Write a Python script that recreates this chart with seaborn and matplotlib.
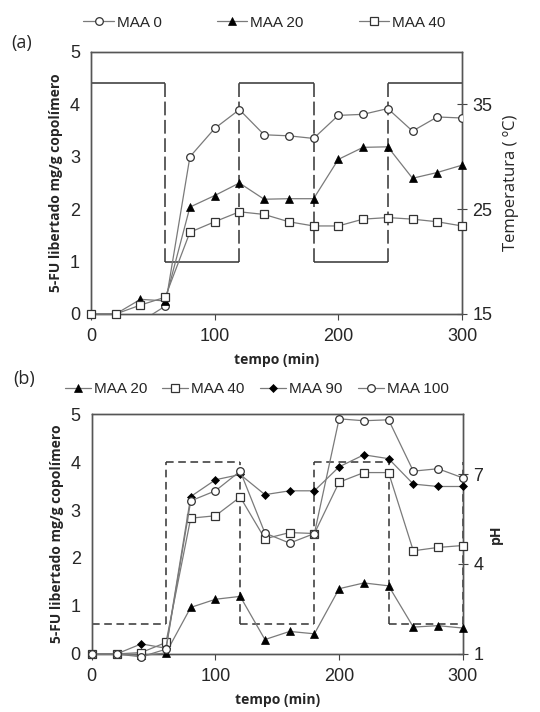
import numpy as np
import pandas as pd
import seaborn as sns
import matplotlib.pyplot as plt
from matplotlib.lines import Line2D

# data
tempo = [0, 20, 40, 60, 80, 100, 120, 140, 160, 180, 200, 220, 240, 260, 280, 300]

# panel (a): temperature pulses
a_maa0 = [0, 0, -0.15, 0.15, 3.0, 3.54, 3.9, 3.42, 3.4, 3.35, 3.79, 3.81, 3.92, 3.49, 3.76, 3.74]
a_maa20 = [0, 0, 0.28, 0.25, 2.04, 2.26, 2.5, 2.19, 2.2, 2.2, 2.95, 3.18, 3.19, 2.59, 2.7, 2.84]
a_maa40 = [0, 0, 0.17, 0.32, 1.56, 1.76, 1.95, 1.9, 1.76, 1.68, 1.68, 1.81, 1.84, 1.81, 1.76, 1.68]
temp_t = [0, 60, 120, 180, 240, 300]
temp_val = [37, 20, 37, 20, 37]

# panel (b): pH pulses
b_maa20 = [0, 0, -0.03, 0.02, 0.97, 1.14, 1.2, 0.3, 0.47, 0.42, 1.36, 1.48, 1.42, 0.56, 0.59, 0.54]
b_maa40 = [0, 0, 0.03, 0.24, 2.83, 2.88, 3.27, 2.4, 2.53, 2.51, 3.58, 3.78, 3.78, 2.15, 2.22, 2.26]
b_maa90 = [0, 0, 0.21, 0.12, 3.28, 3.63, 3.74, 3.32, 3.4, 3.4, 3.9, 4.15, 4.07, 3.54, 3.49, 3.49]
b_maa100 = [0, 0, -0.06, 0.1, 3.19, 3.4, 3.81, 2.52, 2.31, 2.51, 4.9, 4.86, 4.88, 3.81, 3.86, 3.67]
ph_t = [0, 60, 120, 180, 240, 300]
ph_val = [2, 7.4, 2, 7.4, 2]

sns.set_style("ticks")
plt.rcParams['font.family'] = ['Liberation Sans', 'DejaVu Sans']

line_c = '#7a7a7a'
styles = {
    'circle': dict(marker='o', markersize=5.5, markerfacecolor='white', markeredgecolor='#333333', markeredgewidth=0.9),
    'tri': dict(marker='^', markersize=6, markerfacecolor='black', markeredgecolor='black', markeredgewidth=0.5),
    'square': dict(marker='s', markersize=6, markerfacecolor='white', markeredgecolor='#333333', markeredgewidth=0.9),
    'diamond': dict(marker='D', markersize=4, markerfacecolor='black', markeredgecolor='black', markeredgewidth=0.5),
}

fig = plt.figure(figsize=(5.4, 7.12), dpi=100)
ax1 = fig.add_axes([0.1685, 0.559, 0.687, 0.368])
ax2 = fig.add_axes([0.170, 0.0815, 0.687, 0.337])

ylab_font = dict(family='Open Sans', fontweight='bold', fontsize=10)


def draw_series(ax, y, st, clip=False):
    sns.lineplot(x=tempo, y=y, ax=ax, color=line_c, linewidth=0.9, clip_on=clip,
                 zorder=3, **styles[st])


def style_axes(ax, axr):
    ax.set_xlim(0, 300)
    ax.set_ylim(0, 5)
    ax.set_xticks([0, 100, 200, 300])
    ax.set_yticks([0, 1, 2, 3, 4, 5])
    ax.tick_params(axis='x', labelsize=13, length=4, direction='out', color='#444444', pad=6)
    ax.tick_params(axis='y', labelsize=13, length=0, pad=8)
    axr.tick_params(axis='y', labelsize=13, length=7, direction='inout', color='#444444', pad=4)
    for a in (ax, axr):
        for s in a.spines.values():
            s.set_color('#555555')
            s.set_linewidth(1.0)
            s.set_visible(True)
    ax.set_xlabel('tempo (min)', fontdict=ylab_font, labelpad=6)
    ax.set_ylabel('5-FU libertado mg/g copolímero', fontdict=ylab_font, labelpad=5)


# ---- panel (a)
axr1 = ax1.twinx()
axr1.set_ylim(15, 40)
axr1.set_yticks([15, 25, 35])
axr1.hlines(temp_val, temp_t[:-1], temp_t[1:], colors='#333333', linewidth=1.1)
axr1.vlines(temp_t[1:-1], 20, 37, colors='#333333', linewidth=1.1, linestyles=(0, (9, 3)))
ax1.set_zorder(axr1.get_zorder() + 1)
ax1.patch.set_visible(False)

draw_series(ax1, a_maa0, 'circle', clip=True)
draw_series(ax1, a_maa20, 'tri')
draw_series(ax1, a_maa40, 'square')
style_axes(ax1, axr1)
axr1.set_ylabel('Temperatura ( ºC)', fontsize=12, family='Open Sans', labelpad=8)

h_a = [Line2D([], [], color=line_c, linewidth=0.9, **styles[s]) for s in ['circle', 'tri', 'square']]
fig.legend(h_a, ['MAA 0', 'MAA 20', 'MAA 40'], loc='center', bbox_to_anchor=(0.49, 0.968),
           ncol=3, frameon=False, fontsize=11, handlelength=2.0, handletextpad=0.2,
           columnspacing=3.6)
fig.text(0.02, 0.94, '(a)', fontsize=13, family='Open Sans', va='center')

# ---- panel (b)
axr2 = ax2.twinx()
axr2.set_ylim(1, 9)
axr2.set_yticks([1, 4, 7])
axr2.hlines(ph_val, ph_t[:-1], ph_t[1:], colors='#333333', linewidth=1.1, linestyles=(0, (5, 3)))
axr2.vlines(ph_t[1:], 2, 7.4, colors='#333333', linewidth=1.1, linestyles=(0, (5, 3)))
ax2.set_zorder(axr2.get_zorder() + 1)
ax2.patch.set_visible(False)

draw_series(ax2, b_maa20, 'tri')
draw_series(ax2, b_maa40, 'square')
draw_series(ax2, b_maa90, 'diamond')
draw_series(ax2, b_maa100, 'circle')
style_axes(ax2, axr2)
axr2.set_ylabel('pH', fontdict=ylab_font, labelpad=4)

h_b = [Line2D([], [], color=line_c, linewidth=0.9, **styles[s]) for s in ['tri', 'square', 'diamond', 'circle']]
fig.legend(h_b, ['MAA 20', 'MAA 40', 'MAA 90', 'MAA 100'], loc='center', bbox_to_anchor=(0.475, 0.4537),
           ncol=4, frameon=False, fontsize=11, handlelength=1.7, handletextpad=0.2,
           columnspacing=1.0)
fig.text(0.025, 0.468, '(b)', fontsize=13, family='Open Sans', va='center')

fig.savefig('out.png', dpi=100)
